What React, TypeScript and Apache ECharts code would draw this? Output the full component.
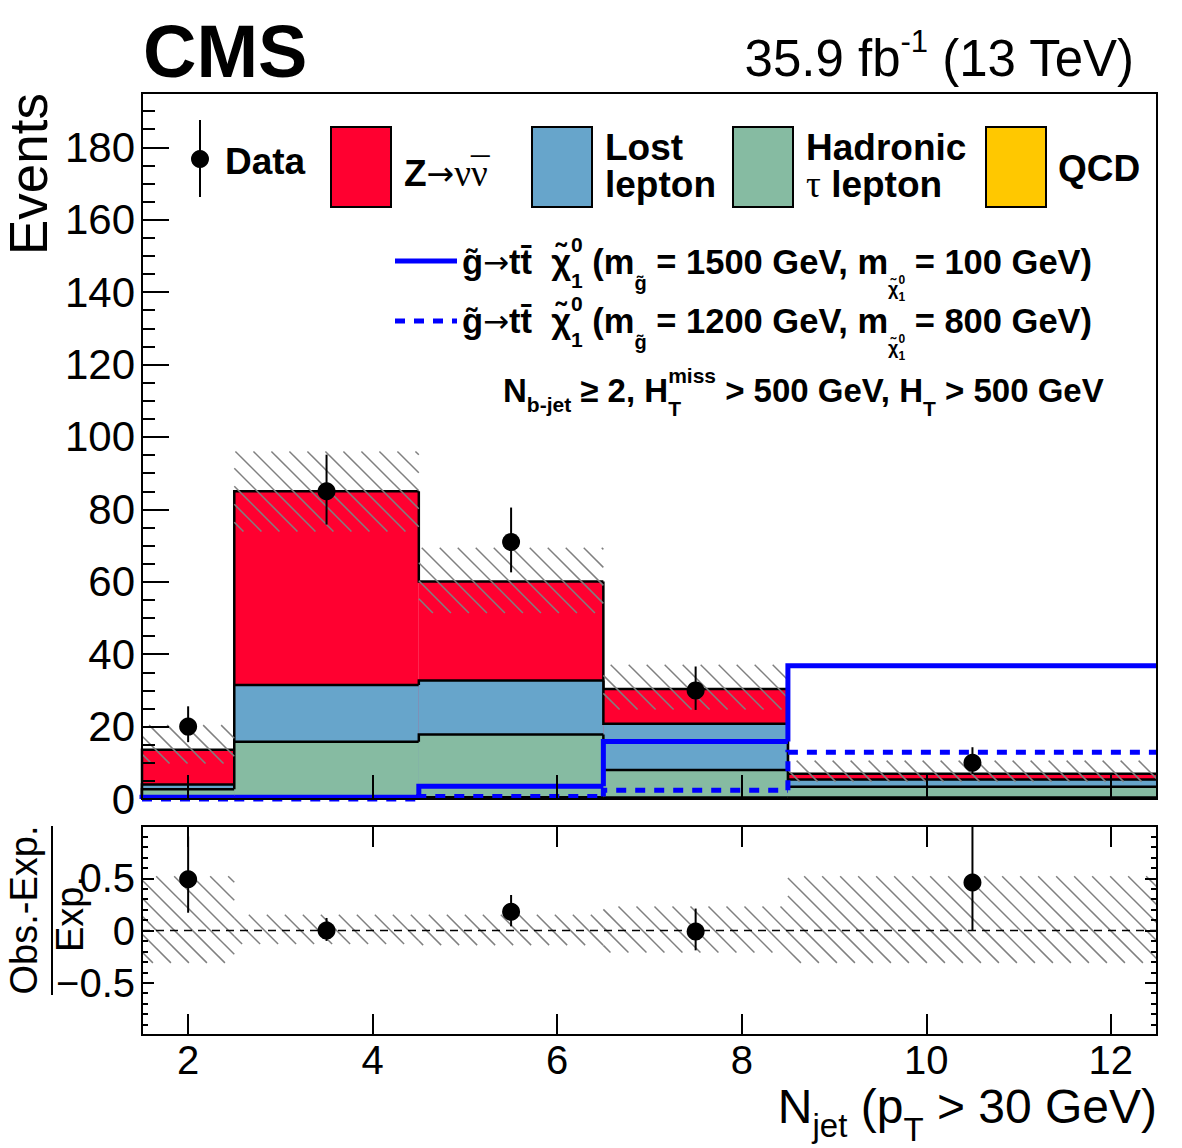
import { useEffect, useRef } from 'react';
import * as echarts from 'echarts';

const SANS = '"Liberation Sans", Arial, Helvetica, sans-serif';
const SERIF = '"Liberation Serif", "DejaVu Serif", serif';
const SYMBOL = '"DejaVu Sans", sans-serif';

// N_jet binning
const X_MIN = 1.5;
const X_MAX = 12.5;
const binEdges = [1.5, 2.5, 4.5, 6.5, 8.5, 12.5];
const binCenters = [2, 3.5, 5.5, 7.5, 10.5];

// Background predictions (events per bin)
const qcd = [0.5, 0.5, 0.5, 0.4, 0.4];
const hadTau = [2.2, 15.3, 17.3, 7.6, 3.0];
const lostLepton = [1.3, 15.7, 14.9, 12.8, 2.0];
const zInv = [9.6, 53.5, 27.4, 9.6, 1.6];

// Total background uncertainty band
const bkgBandUp = [20.4, 96.0, 69.4, 37.1, 10.6];
const bkgBandDown = [9.8, 73.9, 51.4, 24.7, 4.8];

// Observed data
const dataCounts = [20, 85, 71, 30, 10];
const dataErrUp = [5.6, 10.1, 9.5, 6.6, 4.3];
const dataErrDown = [4.3, 9.2, 8.4, 5.4, 3.1];

// Signal benchmarks
const sigMassesA = { gluino: '1500', lsp: '100' };
const sigMassesB = { gluino: '1200', lsp: '800' };
const signalA = [0.5, 0.5, 3.5, 15.9, 36.8];
const signalB = [0, 0, 0.7, 2.4, 12.9];

// (Obs.-Exp.)/Exp. panel
const ratioVals = [0.49, 0.0, 0.18, -0.01, 0.46];
const ratioErrUp = [0.41, 0.12, 0.16, 0.22, 0.62];
const ratioErrDown = [0.32, 0.1, 0.14, 0.18, 0.46];
const ratioBandUp = [0.52, 0.15, 0.15, 0.23, 0.52];
const ratioBandDown = [-0.31, -0.13, -0.14, -0.21, -0.31];

const Y_MAX = 195;

const COL_Z = '#ff0030';
const COL_LOST = '#67a5cb';
const COL_TAU = '#86bba2';
const COL_QCD = '#ffc800';
const COL_SIG = '#0000ff';

const sumArrays = (...arrs: number[][]) => arrs[0].map((_, i) => arrs.reduce((s, a) => s + a[i], 0));
const topQcd = qcd;
const topTau = sumArrays(qcd, hadTau);
const topLost = sumArrays(qcd, hadTau, lostLepton);
const topZ = sumArrays(qcd, hadTau, lostLepton, zInv);

const stepRows = (tops: number[]) =>
  tops.map((v, i) => [binEdges[i], binEdges[i + 1], v, i ? tops[i - 1] : 0]);

const bandRows = (lo: number[], hi: number[]) =>
  lo.map((v, i) => [binEdges[i], binEdges[i + 1], v, hi[i]]);

const pointRows = (y: number[], up: number[], down: number[]) =>
  y.map((v, i) => [binCenters[i], v, up[i], down[i]]);

const HATCH = 18;
function hatchLines(x0: number, y0: number, x1: number, y1: number) {
  const out: any[] = [];
  const cStart = Math.ceil((y0 - x1) / HATCH) * HATCH;
  for (let c = cStart; c <= y1 - x0; c += HATCH) {
    const xa = Math.max(x0, y0 - c);
    const xb = Math.min(x1, y1 - c);
    if (xb - xa > 0.5) {
      out.push({
        type: 'line',
        shape: { x1: xa, y1: xa + c, x2: xb, y2: xb + c },
        style: { stroke: '#808080', lineWidth: 1.5 },
      });
    }
  }
  return out;
}

const renderStack = (color: string) => (_p: any, api: any) => {
  const xlo = api.value(0), xhi = api.value(1), top = api.value(2), prev = api.value(3);
  const a = api.coord([xlo, 0]);
  const b = api.coord([xhi, top]);
  const p = api.coord([xlo, prev]);
  return {
    type: 'group',
    children: [
      { type: 'rect', shape: { x: a[0], y: b[1], width: b[0] - a[0], height: a[1] - b[1] }, style: { fill: color } },
      {
        type: 'polyline',
        shape: { points: [[a[0], p[1]], [a[0], b[1]], [b[0], b[1]]] },
        style: { stroke: '#000', lineWidth: 2.5, fill: null },
      },
    ],
  };
};

const renderStep = (dash: number[] | null) => (_p: any, api: any) => {
  const xlo = api.value(0), xhi = api.value(1), top = api.value(2), prev = api.value(3);
  const a = api.coord([xlo, top]);
  const b = api.coord([xhi, top]);
  const p = api.coord([xlo, prev]);
  return {
    type: 'polyline',
    shape: { points: [[a[0], p[1]], [a[0], a[1]], [b[0], b[1]]] },
    style: { stroke: COL_SIG, lineWidth: 5, fill: null, lineDash: dash || undefined },
  };
};

const renderBand = (_p: any, api: any) => {
  const a = api.coord([api.value(0), api.value(3)]);
  const b = api.coord([api.value(1), api.value(2)]);
  return { type: 'group', children: hatchLines(a[0], a[1], b[0], b[1]) };
};

const renderPoints = (_p: any, api: any) => {
  const x = api.value(0), y = api.value(1);
  const c = api.coord([x, y]);
  const hi = api.coord([x, y + api.value(2)]);
  const lo = api.coord([x, y - api.value(3)]);
  return {
    type: 'group',
    children: [
      { type: 'line', shape: { x1: c[0], y1: hi[1], x2: c[0], y2: lo[1] }, style: { stroke: '#000', lineWidth: 2 } },
      { type: 'circle', shape: { cx: c[0], cy: c[1], r: 9 }, style: { fill: '#000' } },
    ],
  };
};

type Piece = { t: string; size: number; dy?: number; bold?: boolean; font?: string; stack?: boolean };

function makeMeasure() {
  const ctx = document.createElement('canvas').getContext('2d') as CanvasRenderingContext2D;
  return (p: Piece) => {
    ctx.font = `${p.bold ? 'bold ' : ''}${p.size}px ${p.font || SANS}`;
    return ctx.measureText(p.t).width;
  };
}

function layoutRun(pieces: Piece[], x0: number, yc: number, measure: (p: Piece) => number, alignRight = false) {
  const placed: { p: Piece; x: number }[] = [];
  let x = 0, lastX = 0, lastW = 0;
  for (const p of pieces) {
    const w = measure(p);
    if (p.stack) {
      placed.push({ p, x: lastX });
      x = lastX + Math.max(lastW, w);
    } else {
      placed.push({ p, x });
      lastX = x;
      lastW = w;
      x += w;
    }
  }
  const start = alignRight ? x0 - x : x0;
  return placed.map(({ p, x: px }) => ({
    type: 'text',
    silent: true,
    x: start + px,
    y: yc + (p.dy || 0),
    style: {
      text: p.t,
      fontSize: p.size,
      fontWeight: p.bold ? 'bold' : 'normal',
      fontFamily: p.font || SANS,
      fill: '#000',
      align: 'left',
      verticalAlign: 'middle',
      textAlign: 'left',
      textVerticalAlign: 'middle',
    },
  }));
}

const signalPieces = (m: { gluino: string; lsp: string }): Piece[] => [
  { t: 'g\u0303', size: 34.5, bold: true },
  { t: '\u2192', size: 31, font: SYMBOL },
  { t: 'tt\u0304', size: 34.5, bold: true },
  { t: '  ', size: 34.5, bold: true },
  { t: '\u03c7\u0303', size: 34.5, bold: true },
  { t: '0', size: 21, dy: -18, bold: true },
  { t: '1', size: 21, dy: 18, bold: true, stack: true },
  { t: ' (m', size: 34.5, bold: true },
  { t: 'g\u0303', size: 20, dy: 21, bold: true },
  { t: ` = ${m.gluino} GeV, m`, size: 34.5, bold: true },
  { t: '\u03c7\u0303', size: 18, dy: 27, bold: true },
  { t: '0', size: 12, dy: 18, bold: true },
  { t: '1', size: 12, dy: 35, bold: true, stack: true },
  { t: ` = ${m.lsp} GeV)`, size: 34.5, bold: true },
];

function buildGraphics() {
  const measure = makeMeasure();
  const g: any[] = [];
  const txt = (text: string, x: number, y: number, size: number, opts: any = {}) => ({
    type: 'text',
    silent: true,
    x,
    y,
    rotation: opts.rotation || 0,
    style: {
      text,
      fontSize: size,
      fontWeight: opts.bold ? 'bold' : 'normal',
      fontFamily: SANS,
      fill: '#000',
      align: opts.align || 'left',
      verticalAlign: 'middle',
      textAlign: opts.align || 'left',
      textVerticalAlign: 'middle',
    },
  });

  // header
  g.push(txt('CMS', 143, 51, 74, { bold: true }));
  g.push(
    ...layoutRun(
      [
        { t: '35.9 fb', size: 51 },
        { t: '-1', size: 31, dy: -17 },
        { t: ' (13 TeV)', size: 51 },
      ],
      1135,
      58,
      measure,
      true
    )
  );

  // axis titles
  g.push(txt('Events', 28, 93, 53, { rotation: Math.PI / 2, align: 'right' }));
  g.push(txt('Obs.-Exp.', 24, 910, 38, { rotation: Math.PI / 2, align: 'center' }));
  g.push({ type: 'line', silent: true, shape: { x1: 52, y1: 826, x2: 52, y2: 995 }, style: { stroke: '#000', lineWidth: 2 } });
  g.push(txt('Exp.', 70, 914, 38, { rotation: Math.PI / 2, align: 'center' }));
  g.push(
    ...layoutRun(
      [
        { t: 'N', size: 48 },
        { t: 'jet', size: 33, dy: 19 },
        { t: ' (p', size: 48 },
        { t: 'T', size: 33, dy: 23 },
        { t: ' > 30 GeV)', size: 48 },
      ],
      1157,
      1106,
      measure,
      true
    )
  );

  // legend: data marker
  g.push({ type: 'line', silent: true, shape: { x1: 200, y1: 120, x2: 200, y2: 197 }, style: { stroke: '#000', lineWidth: 2 } });
  g.push({ type: 'circle', silent: true, shape: { cx: 200, cy: 159, r: 9 }, style: { fill: '#000' } });
  g.push(txt('Data', 225, 161, 37, { bold: true }));

  // legend: background boxes
  const box = (x: number, color: string) => ({
    type: 'rect',
    silent: true,
    shape: { x, y: 127, width: 60, height: 80 },
    style: { fill: color, stroke: '#000', lineWidth: 2 },
  });
  g.push(box(331, COL_Z), box(532, COL_LOST), box(733, COL_TAU), box(986, COL_QCD));
  g.push(
    ...layoutRun(
      [
        { t: 'Z', size: 37, bold: true },
        { t: '\u2192', size: 33, font: SYMBOL },
        { t: '\u03bd', size: 37, font: SERIF },
        { t: '\u03bd', size: 37, font: SERIF },
        { t: '\u00af', size: 37, font: SERIF, dy: -2, stack: true },
      ],
      404,
      173,
      measure
    )
  );
  g.push(txt('Lost', 605, 147, 37, { bold: true }));
  g.push(txt('lepton', 605, 184, 37, { bold: true }));
  g.push(txt('Hadronic', 806, 147, 37, { bold: true }));
  g.push(
    ...layoutRun(
      [
        { t: '\u03c4', size: 37, font: SERIF },
        { t: ' lepton', size: 37, bold: true },
      ],
      806,
      184,
      measure
    )
  );
  g.push(txt('QCD', 1058, 168, 37, { bold: true }));

  // legend: signal lines
  g.push({ type: 'line', silent: true, shape: { x1: 395, y1: 261, x2: 457, y2: 261 }, style: { stroke: COL_SIG, lineWidth: 5 } });
  g.push({
    type: 'line',
    silent: true,
    shape: { x1: 395, y1: 321, x2: 457, y2: 321 },
    style: { stroke: COL_SIG, lineWidth: 5, lineDash: [10, 9] },
  });
  g.push(...layoutRun(signalPieces(sigMassesA), 462, 262, measure));
  g.push(...layoutRun(signalPieces(sigMassesB), 462, 321, measure));

  // selection text
  g.push(
    ...layoutRun(
      [
        { t: 'N', size: 33, bold: true },
        { t: 'b-jet', size: 21, dy: 14, bold: true },
        { t: ' \u2265 2, H', size: 33, bold: true },
        { t: 'miss', size: 21, dy: -15, bold: true },
        { t: 'T', size: 21, dy: 18, bold: true, stack: true },
        { t: ' > 500 GeV, H', size: 33, bold: true },
        { t: 'T', size: 21, dy: 18, bold: true },
        { t: ' > 500 GeV', size: 33, bold: true },
      ],
      503,
      390,
      measure
    )
  );
  return g;
}

const tickStyle = { color: '#000', width: 2 };
const labelFont = { fontFamily: SANS, color: '#000' };
const noLine = { show: false, onZero: false };

export default function App() {
  const ref = useRef<HTMLDivElement>(null);

  useEffect(() => {
    document.body.style.margin = '0';
    if (!ref.current) return;
    const chart = echarts.init(ref.current, undefined, { renderer: 'svg' });

    const stackSeries = (name: string, tops: number[], color: string) => ({
      type: 'custom',
      name,
      xAxisIndex: 0,
      yAxisIndex: 0,
      data: stepRows(tops),
      renderItem: renderStack(color),
    });

    const option: any = {
      animation: false,
      grid: [
        { left: 142, top: 93, width: 1015, height: 706, show: true, borderColor: '#000', borderWidth: 2, z: 8 },
        { left: 142, top: 826, width: 1015, height: 209, show: true, borderColor: '#000', borderWidth: 2, z: 8 },
      ],
      xAxis: [
        {
          gridIndex: 0, type: 'value', position: 'bottom', min: X_MIN, max: X_MAX, splitNumber: 5, z: 9,
          axisLine: noLine,
          axisTick: { inside: true, length: 24, lineStyle: tickStyle },
          axisLabel: { show: false },
          splitLine: { show: false },
        },
        {
          gridIndex: 1, type: 'value', position: 'bottom', min: X_MIN, max: X_MAX, splitNumber: 5, z: 9,
          axisLine: noLine,
          axisTick: { inside: true, length: 21, lineStyle: tickStyle },
          axisLabel: { ...labelFont, fontSize: 40, margin: 5, showMinLabel: false, showMaxLabel: false },
          splitLine: { show: false },
        },
        {
          gridIndex: 1, type: 'value', position: 'top', min: X_MIN, max: X_MAX, splitNumber: 5, z: 9,
          axisLine: noLine,
          axisTick: { inside: true, length: 21, lineStyle: tickStyle },
          axisLabel: { show: false },
          splitLine: { show: false },
        },
      ],
      yAxis: [
        {
          gridIndex: 0, type: 'value', position: 'left', min: 0, max: Y_MAX, interval: 20, z: 9,
          axisLine: noLine,
          axisTick: { inside: true, length: 27, lineStyle: tickStyle },
          axisLabel: { ...labelFont, fontSize: 42, margin: 7, showMaxLabel: false },
          splitLine: { show: false },
        },
        {
          gridIndex: 0, type: 'value', position: 'left', min: 0, max: Y_MAX, interval: 5, z: 9,
          axisLine: noLine,
          axisTick: { inside: true, length: 13, lineStyle: tickStyle },
          axisLabel: { show: false },
          splitLine: { show: false },
        },
        {
          gridIndex: 1, type: 'value', position: 'left', min: -1, max: 1, interval: 0.5, z: 9,
          axisLine: noLine,
          axisTick: { inside: true, length: 12, lineStyle: tickStyle },
          minorTick: { show: true, splitNumber: 5, length: 6, lineStyle: tickStyle },
          axisLabel: {
            ...labelFont, fontSize: 40, margin: 7, showMinLabel: false, showMaxLabel: false,
            formatter: (v: number) => (Math.abs(v) < 1e-9 ? '0' : v < 0 ? '\u2212' + Math.abs(v) : String(v)),
          },
          splitLine: { show: false },
        },
        {
          gridIndex: 1, type: 'value', position: 'right', min: -1, max: 1, interval: 0.5, z: 9,
          axisLine: noLine,
          axisTick: { inside: true, length: 12, lineStyle: tickStyle },
          minorTick: { show: true, splitNumber: 5, length: 6, lineStyle: tickStyle },
          axisLabel: { show: false },
          splitLine: { show: false },
        },
      ],
      series: [
        stackSeries('Z\u2192\u03bd\u03bd\u0304', topZ, COL_Z),
        stackSeries('Lost lepton', topLost, COL_LOST),
        stackSeries('Hadronic \u03c4 lepton', topTau, COL_TAU),
        stackSeries('QCD', topQcd, COL_QCD),
        {
          type: 'custom', name: 'Bkg. unc.', xAxisIndex: 0, yAxisIndex: 0,
          data: bandRows(bkgBandDown, bkgBandUp), renderItem: renderBand,
        },
        {
          type: 'custom', name: 'signal A', xAxisIndex: 0, yAxisIndex: 0,
          data: stepRows(signalA), renderItem: renderStep(null),
        },
        {
          type: 'custom', name: 'signal B', xAxisIndex: 0, yAxisIndex: 0,
          data: stepRows(signalB), renderItem: renderStep([10, 9]),
        },
        {
          type: 'custom', name: 'Data', xAxisIndex: 0, yAxisIndex: 0,
          data: pointRows(dataCounts, dataErrUp, dataErrDown), renderItem: renderPoints,
        },
        {
          type: 'custom', name: 'Ratio unc.', xAxisIndex: 1, yAxisIndex: 2, clip: true,
          data: bandRows(ratioBandDown, ratioBandUp), renderItem: renderBand,
        },
        {
          type: 'line', name: 'zero', xAxisIndex: 1, yAxisIndex: 2, symbol: 'none', silent: true,
          data: [[X_MIN, 0], [X_MAX, 0]],
          lineStyle: { color: '#000', width: 1.5, type: [8, 6] },
        },
        {
          type: 'custom', name: 'Ratio', xAxisIndex: 1, yAxisIndex: 2, clip: true,
          data: pointRows(ratioVals, ratioErrUp, ratioErrDown), renderItem: renderPoints,
        },
      ],
      graphic: buildGraphics(),
    };

    chart.setOption(option);
    return () => chart.dispose();
  }, []);

  return <div ref={ref} style={{ width: 1182, height: 1148 }} />;
}
